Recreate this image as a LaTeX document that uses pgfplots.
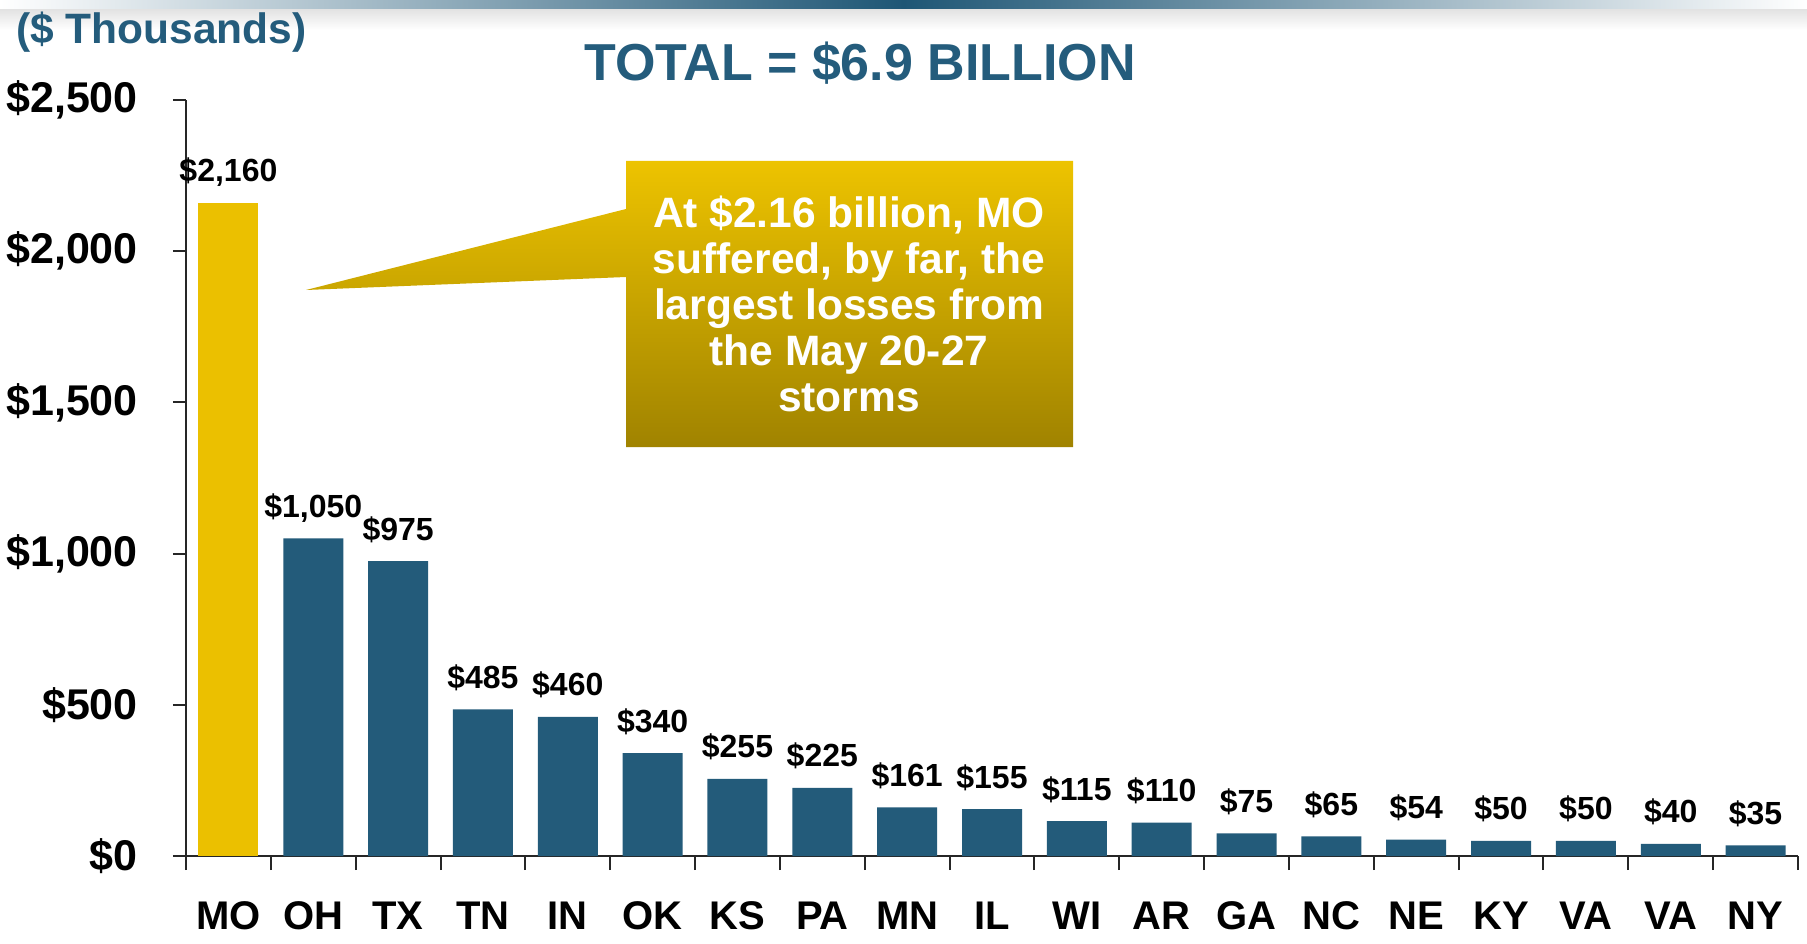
\documentclass[border=0pt]{standalone}
\usepackage{fontspec}
\setmainfont{Liberation Sans}
\usepackage{pgfplots}
\pgfplotsset{compat=1.18}
\definecolor{titleblue}{HTML}{245C7C}
\definecolor{barblue}{HTML}{235B7A}
\definecolor{moyellow}{HTML}{EBC000}
\definecolor{boxtop}{HTML}{EDC300}
\definecolor{boxbot}{HTML}{A08300}
\definecolor{bandblue}{HTML}{1E5675}

\pgfplotstableread{
x y label
0 2160 2,160
}\motable
\pgfplotstableread{
x y label
1 1050 1,050
2 975 975
3 485 485
4 460 460
5 340 340
6 255 255
7 225 225
8 161 161
9 155 155
10 115 115
11 110 110
12 75 75
13 65 65
14 54 54
15 50 50
16 50 50
17 40 40
18 35 35
}\resttable

\begin{document}
\begin{tikzpicture}[x=1pt,y=1pt]
\path[use as bounding box] (0,0) rectangle (1807,-944);
% decorative top band
\shade[top color=black!12, bottom color=white] (0,-8) rectangle (1807,-30);
\shade[left color=white, right color=white, middle color=bandblue] (0,0) rectangle (1807,-9);

\begin{axis}[
  at={(186pt,-856pt)}, anchor=south west,
  scale only axis, width=1612pt, height=756pt,
  xmin=-0.5, xmax=18.5, ymin=0, ymax=2500,
  clip=false,
  axis x line=bottom, axis y line=left,
  axis line style={-, line width=2.5pt, black!85},
  tick align=outside,
  major tick length=13pt,
  minor tick length=14pt,
  ytick={0,500,1000,1500,2000,2500},
  yticklabels={\$0,\$500,{\$1,000},{\$1,500},{\$2,000},{\$2,500}},
  ytick style={line width=2pt, black!85},
  yticklabel style={font=\fontsize{43}{43}\selectfont\bfseries, inner sep=0pt, xshift=-35pt},
  xtick={0,...,18},
  xticklabels={MO,OH,TX,TN,IN,OK,KS,PA,MN,IL,WI,AR,GA,NC,NE,KY,VA,VA,NY},
  major x tick style={draw=none},
  minor xtick={-0.5,0.5,...,18.5},
  minor x tick style={line width=2pt, black!85},
  xticklabel style={font=\fontsize{40}{40}\selectfont\bfseries, inner sep=0pt, anchor=base, yshift=-60pt},
  every node near coord/.append style={font=\fontsize{32}{32}\selectfont\bfseries, anchor=base, inner sep=0pt, yshift=21pt, text=black},
]
\addplot[ybar, bar width=60pt, bar shift=0pt, fill=moyellow, draw=none,
  nodes near coords={\$\pgfplotspointmeta}, point meta=explicit symbolic]
  table[x=x, y=y, meta=label] {\motable};
\addplot[ybar, bar width=60pt, bar shift=0pt, fill=barblue, draw=none,
  nodes near coords={\$\pgfplotspointmeta}, point meta=explicit symbolic]
  table[x=x, y=y, meta=label] {\resttable};
\end{axis}

% callout
\shade[top color=boxtop, bottom color=boxbot]
  (626,-161) -- (1073,-161) -- (1073,-447) -- (626,-447) -- (626,-277) -- (306,-290) -- (626,-209) -- cycle;
\node[text=white, align=center, font=\fontsize{42.5}{46}\selectfont\bfseries] at (849,-304)
  {At \$2.16 billion, MO\\suffered, by far, the\\largest losses from\\the May 20-27\\storms};

% titles
\node[text=titleblue, font=\fontsize{52}{52}\selectfont\bfseries, inner sep=0pt] at (860,-63) {TOTAL = \$6.9 BILLION};
\node[text=titleblue, font=\fontsize{42.5}{42.5}\selectfont\bfseries, anchor=west, inner sep=0pt] at (16,-32) {(\$ Thousands)};
\end{tikzpicture}
\end{document}
